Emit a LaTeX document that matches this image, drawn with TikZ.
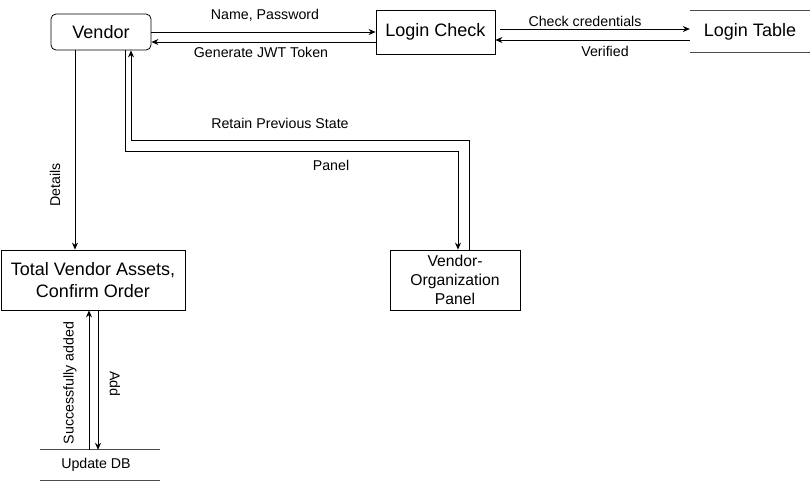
\documentclass[tikz,border=0pt]{standalone}
\usepackage{fontspec}
\setmainfont{Liberation Sans}
\usetikzlibrary{arrows.meta,calc}
\begin{document}
\begin{tikzpicture}[x=1pt,y=-1pt,
  box/.style={draw, line width=0.8pt, align=center, inner sep=0pt, font=\fontsize{18}{21}\selectfont},
  store/.style={inner sep=0pt, align=center},
  lbl/.style={inner sep=0pt, font=\fontsize{14.2}{16}\selectfont},
  arr/.style={line width=0.8pt, -{Stealth[length=7pt,width=6pt]}},
  ln/.style={line width=0.8pt, draw=black!70}]
\useasboundingbox (0,0) rectangle (812,483);
\node[box, rounded corners=5pt, minimum width=100pt, minimum height=36pt] (vendor) at (101,32) {Vendor};
\node[box, minimum width=119pt, minimum height=44pt] (login) at (435.5,32) {Login Check};
\node[store, minimum width=120pt, minimum height=41pt, font=\fontsize{18}{21}\selectfont] (ltable) at (750,31.5) {Login Table};
\draw[ln] (ltable.north west) -- (ltable.north east);
\draw[ln] (ltable.south west) -- (ltable.south east);
\node[box, minimum width=184pt, minimum height=60pt, font=\fontsize{18}{22}\selectfont] (total) at (93,280) {Total Vendor Assets,\\Confirm Order};
\node[box, minimum width=130pt, minimum height=60pt, font=\fontsize{15.7}{19}\selectfont] (panel) at (455,280) {Vendor-\\Organization\\Panel};
\node[store, minimum width=120pt, minimum height=30pt] (db) at (100,465) {};
\node[lbl] (dbt) at (96,465) {Update DB};
\draw[ln] (db.north west) -- (db.north east);
\draw[ln] (db.south west) -- (db.south east);

% Vendor <-> Login Check
\draw[arr] (vendor.east) -- (login.west);
\draw[arr] ([yshift=-10pt]login.west) -- ([yshift=-10pt]vendor.east);
\node[lbl] (l1) at (265,15) {Name, Password};
\node[lbl] (l2) at (261,52) {Generate JWT Token};
% Login Check <-> Login Table
\draw[arr] ([shift={(5pt,3pt)}]login.east) -- ([yshift=2.5pt]ltable.west);
\draw[arr] ([yshift=-8.5pt]ltable.west) -- ([yshift=-8pt]login.east);
\node[lbl] (l3) at (585,21) {Check credentials};
\node[lbl] (l4) at (605,51) {Verified};
% Vendor -> Total
\draw[arr] ([xshift=-26pt]vendor.south) -- ([xshift=-26pt]vendor.south |- total.north);
\node[lbl, rotate=90] (l5) at (55,185) {Details};
% Vendor -> Panel
\draw[arr] ([xshift=24pt]vendor.south) -- ++(0,101) -| ([xshift=3pt]panel.north);
\node[lbl] (l6) at (331,165) {Panel};
% Panel -> Vendor
\draw[arr] ([xshift=14pt]panel.north) -- ++(0,-109) -| ([xshift=30pt]vendor.south);
\node[lbl] (l7) at (280,123) {Retain Previous State};
% Total <-> DB
\draw[arr] ([xshift=-11pt]db.north) -- ([xshift=-11pt]db.north |- total.south);
\draw[arr] ([xshift=-2pt]db.north |- total.south) -- ([xshift=-2pt]db.north);
\node[lbl, rotate=90] (l8) at (70,383) {Successfully added};
\node[lbl, rotate=-90] (l9) at (115,384) {Add};
\end{tikzpicture}
\end{document}
